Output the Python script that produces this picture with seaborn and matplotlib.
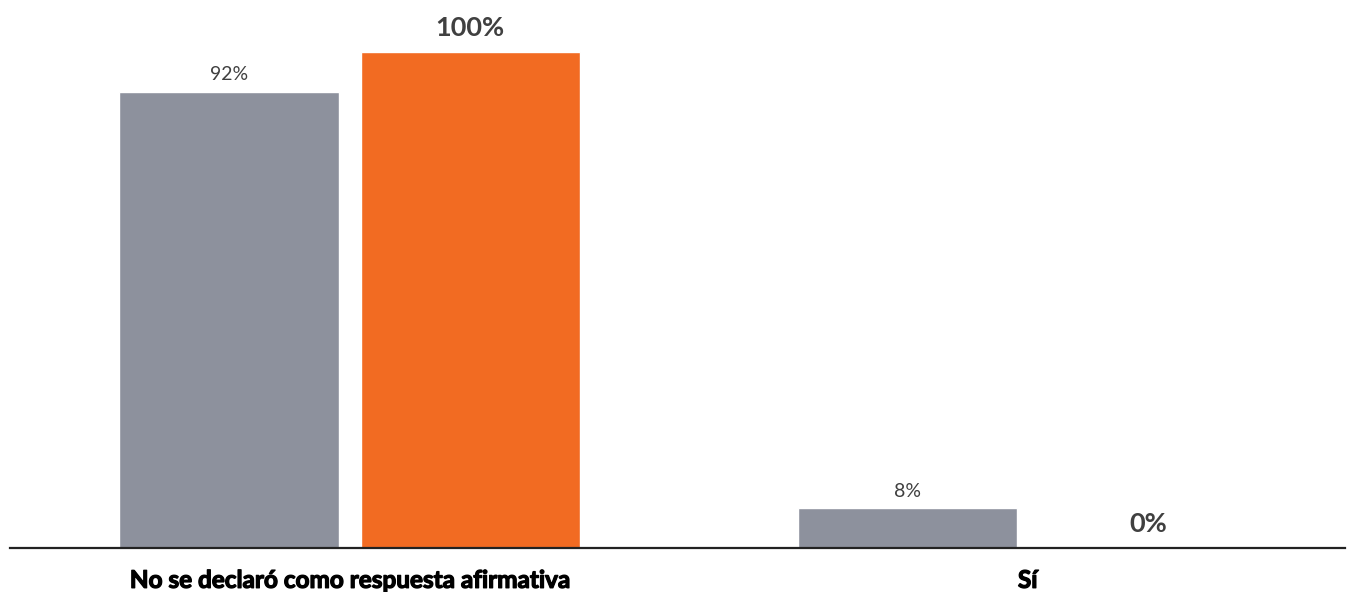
import matplotlib.pyplot as plt
import matplotlib.patheffects as pe
import seaborn as sns
import pandas as pd

# data
categorias = ["No se declaró como respuesta afirmativa", "Sí"]
serie_gris = [92, 8]
serie_naranja = [100, 0]
series = ["Grupo 1", "Grupo 2"]

df = pd.DataFrame({
    "Categoria": categorias * 2,
    "Serie": [series[0]] * 2 + [series[1]] * 2,
    "Valor": serie_gris + serie_naranja,
})

sns.set_style("white")
plt.rcParams['font.family'] = ['Lato', 'DejaVu Sans']

fig = plt.figure(figsize=(13.55, 5.92), dpi=100)
ax = fig.add_axes([10/1355, 44/592, 1335/1355, 496/592])

palette = ["#8d919d", "#f26b22"]
sns.barplot(data=df, x="Categoria", y="Valor", hue="Serie", palette=palette,
            width=0.711, gap=0.09, saturation=1, legend=False, ax=ax)

ax.set_xlim(-0.501, 1.468)
ax.set_ylim(0, 100)

# value labels
ax.bar_label(ax.containers[0], labels=[f"{v}%" for v in serie_gris],
             padding=6, fontsize=14, color="#404040", clip_on=False)
ax.bar_label(ax.containers[1], labels=[f"{v}%" for v in serie_naranja],
             padding=9, fontsize=19.5, fontweight="bold", color="#404040",
             clip_on=False)

for s in ["top", "right", "left"]:
    ax.spines[s].set_visible(False)
ax.spines["bottom"].set_color("#222222")
ax.spines["bottom"].set_linewidth(1.6)
ax.set_yticks([])
ax.set_xlabel("")
ax.set_ylabel("")
ax.tick_params(axis="x", length=0, pad=15)
for lab in ax.get_xticklabels():
    lab.set_fontsize(17.5)
    lab.set_fontweight("bold")
    lab.set_color("black")
    lab.set_path_effects([pe.withStroke(linewidth=0.9, foreground="black")])

fig.savefig("out.png", dpi=100)
